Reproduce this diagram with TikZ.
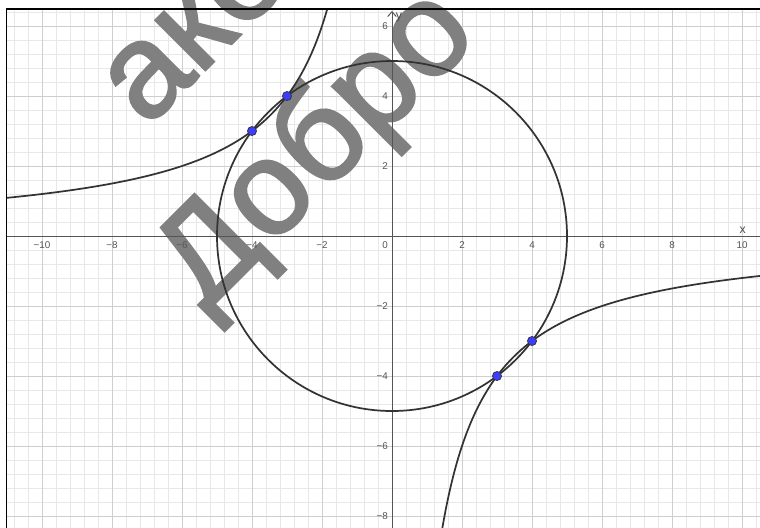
\documentclass[tikz,border=0pt]{standalone}
\usepackage{fontspec}
\setmainfont{Liberation Sans}
\newfontfamily\stampfont[FakeBold=2]{Liberation Sans}
\usetikzlibrary{arrows.meta}
\definecolor{gridminor}{HTML}{e8e8e8}
\definecolor{gridmajor}{HTML}{cecece}
\definecolor{axiscol}{HTML}{555555}
\definecolor{curvecol}{HTML}{333333}
\definecolor{ticklabel}{HTML}{555555}
\definecolor{pointfill}{HTML}{3d3dff}
\definecolor{stampcol}{HTML}{808080}

\begin{document}
\begin{tikzpicture}[
    x=1cm, y=1cm,
    every node/.style={font=\fontsize{8}{9}\selectfont},
    minorgrid/.style={gridminor, line width=0.6pt},
    majorgrid/.style={gridmajor, line width=0.7pt},
    axis/.style={axiscol, line width=0.8pt},
    curve/.style={curvecol, line width=1.4pt},
    tick/.style={text=ticklabel, inner sep=1pt},
    point/.style={circle, fill=pointfill, draw=curvecol, line width=0.6pt,
        inner sep=0pt, minimum size=0.26cm},
    frame/.style={black, line width=1.3pt},
    stamp/.style={font=\stampfont\fontsize{108}{108}\selectfont, text=stampcol,
        rotate=45, inner sep=0pt, anchor=base west},
]

% Canvas
\useasboundingbox[fill=white] (-11.2,-8.314) rectangle (10.514,6.743);

% Grid
\begin{scope}
\clip (-11.01,-8.314) rectangle (10.514,6.486);
\draw[minorgrid] (-11.2,-8.4) grid[step=0.4] (10.6,6.8);
\draw[majorgrid] (-11.2,-8.4) grid[step=2] (10.6,6.8);
\end{scope}

% Watermark
\node[stamp] (stampa) at (-7.01,3.07) {акет};
\node[stamp] (stampb) at (-5.34,-2.2) {Добро};

\begin{scope}
\clip (-11.01,-8.314) rectangle (10.514,6.486);

% Axes
\draw[axis] (-11.2,0) -- (10.6,0);
\draw[axis,-{Straight Barb[length=4pt,width=7pt]}] (0,-8.4) -- (0,6.43);
\node[tick,text=black!70] (xlab) at (10.02,0.17) {\fontsize{10}{10}\selectfont x};
\node[tick,text=black!70] (ylab) at (0.2,6.23) {\fontsize{10}{10}\selectfont y};

% Tick labels
\foreach \v in {-10,-8,-6,-4,-2,2,4,6,8,10}
    \node[tick,anchor=north] (tx\v) at (\v,-0.12)
        {\ifnum\v<0 −\number-\v\else\v\fi};
\foreach \v in {-8,-6,-4,-2,2,4,6}
    \node[tick,anchor=east] (ty\v) at (-0.08,\v)
        {\ifnum\v<0 −\number-\v\else\v\fi};
\node[tick,anchor=north east] (t0) at (-0.08,-0.12) {0};

% Circle and hyperbola
\draw[curve] (0,0) circle[radius=5];
\draw[curve] plot[domain=-11.3:-1.8, samples=160, smooth] (\x,{-12/\x});
\draw[curve] plot[domain=1.4:10.6, samples=160, smooth] (\x,{-12/\x});

% Intersection points
\node[point] (p1) at (-4,3) {};
\node[point] (p2) at (-3,4) {};
\node[point] (p3) at (3,-4) {};
\node[point] (p4) at (4,-3) {};
\end{scope}

% Frame
\draw[frame] (-11.01,-8.4) -- (-11.01,6.486) -- (10.6,6.486);

\end{tikzpicture}
\end{document}
